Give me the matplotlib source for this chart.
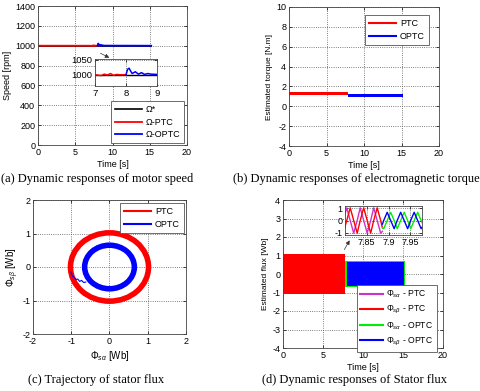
import matplotlib
matplotlib.use('Agg')
import matplotlib.pyplot as plt
from matplotlib.patches import Circle

plt.rcParams['font.family'] = ['Liberation Sans', 'DejaVu Sans']
plt.rcParams['mathtext.fontset'] = 'custom'
plt.rcParams['mathtext.rm'] = 'Liberation Sans'
plt.rcParams['mathtext.it'] = 'Liberation Sans:italic'
plt.rcParams['axes.unicode_minus'] = False

# ---------------- data ----------------
# (a) speed
t_ref = [0, 15.2]
w_ref = [1000, 1000]
t_ptc = [0, 7.0, 7.2, 7.3, 7.4, 7.5, 7.6, 7.7, 7.8, 8.0]
w_ptc = [1000, 1000, 997, 1002, 999, 1004, 998, 1001, 1000, 1000]
t_optc = [8.0, 8.05, 8.1, 8.15, 8.2, 8.3, 8.4, 8.5, 8.6, 8.7, 8.8, 9.0, 15.2]
w_optc = [1000, 1018, 1022, 1012, 1004, 1010, 1002, 1007, 1001, 1004, 1002, 1001, 1000]
speed_labels = ['Ω*', 'Ω-PTC', 'Ω-OPTC']

# (b) torque bands
t_tq_ptc = [0, 7.9]
tq_ptc_lo = [1.1, 1.1]
tq_ptc_hi = [1.4, 1.4]
t_tq_optc = [7.9, 15.2]
tq_optc_lo = [0.95, 0.95]
tq_optc_hi = [1.2, 1.2]
torque_labels = ['PTC', 'OPTC']

# (c) flux trajectory
r_ptc = 1.02
r_optc = 0.65
tr_x = [-1.01, -0.97, -0.93, -0.88, -0.83, -0.78, -0.73, -0.68, -0.62]
tr_y = [-0.15, -0.27, -0.30, -0.37, -0.36, -0.43, -0.40, -0.46, -0.45]
traj_labels = ['PTC', 'OPTC']

# (d) flux bands
t_fl_ptc = [0, 7.75]
fl_ptc = [1.08, 1.08]
t_fl_optc_a = [7.75, 15.25]
fl_optc_a = [0.70, 0.70]
t_fl_optc_b = [7.95, 15.1]
fl_optc_b = [0.66, 0.66]
# (d) inset waveforms
t_p = [7.796, 7.804, 7.812, 7.820, 7.828, 7.835, 7.843, 7.851, 7.859, 7.866, 7.874, 7.882, 7.886]
fa_ptc = [0, 1.05, 0, -1.05, 0, 1.05, 0, -1.05, 0, 1.05, 0, -1.05, -0.9]
fb_ptc = [-1.05, 0, 1.05, 0, -1.05, 0, 1.05, 0, -1.05, 0, 1.05, 0, -0.6]
t_o = [7.886, 7.889, 7.897, 7.905, 7.913, 7.920, 7.928, 7.936, 7.944, 7.951, 7.959, 7.967, 7.975, 7.98]
fb_optc = [-0.3, 0, 0.68, 0, -0.68, 0, 0.68, 0, -0.68, 0, 0.68, 0, -0.68, -0.4]
fa_optc = [-0.6, -0.68, 0, 0.68, 0, -0.68, 0, 0.68, 0, -0.68, 0, 0.68, 0, -0.4]
flux_labels = [r'$\Phi_{s\alpha}$ - PTC', r'$\Phi_{s\beta}$ - PTC',
               r'$\Phi_{s\alpha}$ - OPTC', r'$\Phi_{s\beta}$ - OPTC']

captions = ['(a) Dynamic responses of motor speed',
            '(b) Dynamic responses of electromagnetic torque',
            '(c) Trajectory of stator flux',
            '(d) Dynamic responses of Stator flux']

RED = '#ff0000'
BLUE = '#0000ff'
MAG = '#cc33cc'
GRN = '#00ee00'

W, H = 480, 391
fig = plt.figure(figsize=(W / 100, H / 100), dpi=100)


def ax_px(l, t, r, b):
    return fig.add_axes([l / W, 1 - b / H, (r - l) / W, (b - t) / H])


def style(ax, fs=6.5):
    ax.grid(True, ls=':', color='#555555', lw=0.6)
    ax.set_axisbelow(True)
    for s in ax.spines.values():
        s.set_linewidth(0.6)
        s.set_color('#444444')
    ax.tick_params(direction='in', length=2, width=0.5, labelsize=fs, pad=2,
                   top=True, right=True)


def legend_px(ax, handles_labels, r, t, fs=6.5, hl=3.0, ls=0.4):
    h, l = handles_labels
    leg = ax.legend(h, l, loc='upper right', bbox_to_anchor=(r / W, 1 - t / H),
                    bbox_transform=fig.transFigure, borderaxespad=0,
                    fontsize=fs, handlelength=hl, labelspacing=ls,
                    fancybox=False, framealpha=1, edgecolor='#555555',
                    borderpad=0.45, handletextpad=0.4)
    leg.get_frame().set_linewidth(0.6)
    return leg


# ---------------- (a) ----------------
ax = ax_px(38, 6, 187, 145)
style(ax)
l0, = ax.plot(t_ref, w_ref, color='k', lw=1.2)
l1, = ax.plot(t_ptc, w_ptc, color=RED, lw=1.3)
l2, = ax.plot(t_optc, w_optc, color=BLUE, lw=1.3)
ax.set_xlim(0, 20)
ax.set_ylim(0, 1400)
ax.set_xticks([0, 5, 10, 15, 20])
ax.set_yticks(range(0, 1401, 200))
ax.set_xlabel('Time [s]', fontsize=6.5, labelpad=2)
ax.set_ylabel('Speed [rpm]', fontsize=6.5, labelpad=2)
legend_px(ax, ([l0, l1, l2], speed_labels), 184, 101)
ax.annotate('', xy=(9.9, 866), xytext=(8.05, 937),
            arrowprops=dict(arrowstyle='-|>', color='#333333', lw=0.5,
                            mutation_scale=6))

ai = ax_px(95, 59, 157, 86)
style(ai, fs=6.8)
ai.plot(t_ref, w_ref, color='k', lw=1.0)
ai.plot(t_ptc, w_ptc, color=RED, lw=1.1)
ai.plot(t_optc, w_optc, color=BLUE, lw=1.1)
ai.set_xlim(7, 9)
ai.set_ylim(962, 1053)
ai.set_xticks([7, 8, 9])
ai.set_yticks([1000, 1050])

# ---------------- (b) ----------------
bx = ax_px(289, 7, 439, 146)
style(bx)
bx.fill_between(t_tq_ptc, tq_ptc_lo, tq_ptc_hi, color=RED, lw=0)
bx.fill_between(t_tq_optc, tq_optc_lo, tq_optc_hi, color=BLUE, lw=0)
bx.set_xlim(0, 20)
bx.set_ylim(-4, 10)
bx.set_xticks([0, 5, 10, 15, 20])
bx.set_yticks(range(-4, 11, 2))
bx.set_xlabel('Time [s]', fontsize=6.5, labelpad=2)
bx.set_ylabel('Estimated torque [N.m]', fontsize=6, labelpad=2)
hb = [plt.Line2D([], [], color=RED, lw=1.5), plt.Line2D([], [], color=BLUE, lw=1.5)]
legend_px(bx, (hb, torque_labels), 429, 15)

# ---------------- (c) ----------------
cx = ax_px(33, 200, 186, 334)
style(cx)
cx.add_patch(Circle((0, 0), r_ptc, fill=False, ec=RED, lw=4.0))
cx.add_patch(Circle((0, 0), r_optc, fill=False, ec=BLUE, lw=4.0))
cx.plot(tr_x, tr_y, color=BLUE, lw=0.8)
cx.set_xlim(-2, 2)
cx.set_ylim(-2, 2)
cx.set_xticks([-2, -1, 0, 1, 2])
cx.set_yticks([-2, -1, 0, 1, 2])
cx.set_xlabel(r'$\Phi_{s\alpha}$ [Wb]', fontsize=7, labelpad=2)
cx.set_ylabel(r'$\Phi_{s\beta}$ [Wb]', fontsize=7, labelpad=1)
hc = [plt.Line2D([], [], color=RED, lw=1.5), plt.Line2D([], [], color=BLUE, lw=1.5)]
legend_px(cx, (hc, traj_labels), 184, 203)

# ---------------- (d) ----------------
dx = ax_px(283, 200, 443, 348)
style(dx)
dx.fill_between(t_fl_ptc, [-v for v in fl_ptc], fl_ptc, color=RED, lw=0)
dx.fill_between(t_fl_optc_a, [-v for v in fl_optc_a], fl_optc_a, color=GRN, lw=0)
dx.fill_between(t_fl_optc_b, [-v for v in fl_optc_b], fl_optc_b, color=BLUE, lw=0)
dx.set_xlim(0, 20)
dx.set_ylim(-4, 4)
dx.set_xticks([0, 5, 10, 15, 20])
dx.set_yticks(range(-4, 5))
dx.set_xlabel('Time [s]', fontsize=6.5, labelpad=2)
dx.set_ylabel('Estimated flux [Wb]', fontsize=6, labelpad=2)
hd = [plt.Line2D([], [], color=c, lw=1.5) for c in (MAG, RED, GRN, BLUE)]
legend_px(dx, (hd, flux_labels), 437, 285, fs=6.2, hl=2.6, ls=0.45)
dx.annotate('', xy=(8.5, 1.95), xytext=(7.5, 1.19),
            arrowprops=dict(arrowstyle='-|>', color='#333333', lw=0.5,
                            mutation_scale=6))

di = ax_px(345, 206, 422, 235)
style(di)
di.plot(t_p, fa_ptc, color=MAG, lw=1.0)
di.plot(t_p, fb_ptc, color=RED, lw=1.0)
di.plot(t_o, fa_optc, color=GRN, lw=1.0)
di.plot(t_o, fb_optc, color=BLUE, lw=1.0)
di.set_xlim(7.8, 7.977)
di.set_ylim(-1.2, 1.2)
di.set_xticks([7.85, 7.9, 7.95])
di.set_xticklabels(['7.85', '7.9', '7.95'])
di.set_yticks([-1, 0, 1])

# ---------------- captions ----------------
cap_kw = dict(family=['Liberation Serif', 'DejaVu Serif'], fontsize=9,
              ha='center', va='center')
fig.text(97 / W, 1 - 179 / H, captions[0], **cap_kw)
fig.text(356 / W, 1 - 179 / H, captions[1], **cap_kw)
fig.text(96 / W, 1 - 380 / H, captions[2], **cap_kw)
fig.text(354 / W, 1 - 380 / H, captions[3], **cap_kw)

fig.savefig('out.png', dpi=100)
